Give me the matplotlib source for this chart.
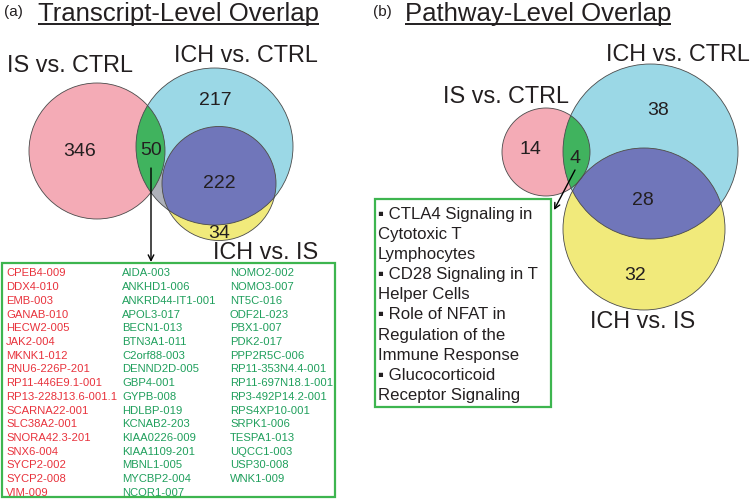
import matplotlib
matplotlib.use("Agg")
import matplotlib.pyplot as plt
from matplotlib.patches import Circle, Polygon, Rectangle

plt.rcParams["font.family"] = ["Liberation Sans", "DejaVu Sans"]

# ---- data ----
set_labels = ["IS vs. CTRL", "ICH vs. CTRL", "ICH vs. IS"]
# region counts: IS only, IS&ICH-CTRL, ICH-CTRL only, ICH-CTRL&ICH-IS, ICH-IS only
transcript_counts = [346, 50, 217, 222, 34]
pathway_counts = [14, 4, 38, 28, 32]

red_genes = ["CPEB4-009", "DDX4-010", "EMB-003", "GANAB-010", "HECW2-005",
             "JAK2-004", "MKNK1-012", "RNU6-226P-201", "RP11-446E9.1-001",
             "RP13-228J13.6-001.1", "SCARNA22-001", "SLC38A2-001",
             "SNORA42.3-201", "SNX6-004", "SYCP2-002", "SYCP2-008", "VIM-009"]
green_genes = ["AIDA-003", "ANKHD1-006", "ANKRD44-IT1-001", "APOL3-017",
               "BECN1-013", "BTN3A1-011", "C2orf88-003", "DENND2D-005",
               "GBP4-001", "GYPB-008", "HDLBP-019", "KCNAB2-203",
               "KIAA0226-009", "KIAA1109-201", "MBNL1-005", "MYCBP2-004",
               "NCOR1-007",
               "NOMO2-002", "NOMO3-007", "NT5C-016", "ODF2L-023", "PBX1-007",
               "PDK2-017", "PPP2R5C-006", "RP11-353N4.4-001",
               "RP11-697N18.1-001", "RP3-492P14.2-001", "RPS4XP10-001",
               "SRPK1-006", "TESPA1-013", "UQCC1-003", "USP30-008", "WNK1-009"]

pathway_lines = ["\u25aa CTLA4 Signaling in", "Cytotoxic T", "Lymphocytes",
                 "\u25aa CD28 Signaling in T", "Helper Cells",
                 "\u25aa Role of NFAT in", "Regulation of the",
                 "Immune Response", "\u25aa Glucocorticoid",
                 "Receptor Signaling"]

PINK = "#f4abb6"
BLUE = "#9bd8e6"
GREEN = "#40b35e"
PURPLE = "#7076ba"
YELLOW = "#f1ea7b"
GREY = "#aeb1ba"
EDGE = "#4a4a4a"
TXT = "#231f20"
BOXG = "#3db54f"
RED_T = "#e8323c"
GREEN_T = "#1f9f5c"

fig = plt.figure(figsize=(7.5, 5), dpi=100)
ax = fig.add_axes([0, 0, 1, 1])
ax.set_xlim(0, 750)
ax.set_ylim(500, 0)
ax.axis("off")


def venn(pink, blue, yellow, grey_poly=None):
    pk = Circle(pink[:2], pink[2], fc=PINK, ec="none", zorder=1)
    bl = Circle(blue[:2], blue[2], fc=BLUE, ec="none", zorder=1.1)
    ax.add_patch(pk)
    ax.add_patch(bl)
    if grey_poly is not None:
        g = Polygon(grey_poly, fc=GREY, ec="none", zorder=1.2)
        ax.add_patch(g)
        g.set_clip_path(bl)
    gr = Circle(blue[:2], blue[2], fc=GREEN, ec="none", zorder=1.3)
    ax.add_patch(gr)
    gr.set_clip_path(pk)
    ye = Circle(yellow[:2], yellow[2], fc=YELLOW, ec="none", zorder=1.4)
    ax.add_patch(ye)
    pu = Circle(yellow[:2], yellow[2], fc=PURPLE, ec="none", zorder=1.5)
    ax.add_patch(pu)
    pu.set_clip_path(bl)
    for c in (pink, blue, yellow):
        ax.add_patch(Circle(c[:2], c[2], fc="none", ec=EDGE, lw=0.6, zorder=2))


# ---- panel (a) ----
venn((97, 151, 68), (214.5, 146.5, 78.5), (219, 183.5, 57),
     grey_poly=[(150, 186), (166, 168), (185, 222), (150, 222)])

num_kw = dict(fontsize=14, color=TXT, ha="center", va="baseline", zorder=3)
for (x, y), n in zip([(80, 156), (151, 155), (215, 105), (219, 188), (219, 238)],
                     transcript_counts):
    ax.text(x, y, str(n), **num_kw)

lab_kw = dict(fontsize=16.8, color=TXT, va="baseline", zorder=3)
ax.text(7, 72, set_labels[0], ha="left", **lab_kw)
ax.text(174, 62, set_labels[1], ha="left", **lab_kw)
ax.text(213, 259, set_labels[2], ha="left", **lab_kw)

ax.annotate("", xy=(151, 262), xytext=(151, 168),
            arrowprops=dict(arrowstyle="->", color="black", lw=1,
                            mutation_scale=10, shrinkA=0, shrinkB=0), zorder=3)

ax.add_patch(Rectangle((2, 263), 333, 234, fc="white", ec=BOXG, lw=1.6, zorder=2))
row0, step = 276.5, 13.7
cols = [(6, red_genes, RED_T), (122, green_genes[:17], GREEN_T),
        (230, green_genes[17:], GREEN_T)]
for x, genes, col in cols:
    for i, g in enumerate(genes):
        ax.text(x, row0 + i * step, g, fontsize=8.1, color=col,
                ha="left", va="baseline", zorder=3)

# ---- panel (b) ----
venn((546, 152, 44), (650.5, 151.5, 87.5), (644, 229, 81))
for (x, y), n in zip([(530, 154), (575, 163), (658, 115), (643, 205), (635, 280)],
                     pathway_counts):
    ax.text(x, y, str(n), **num_kw)

ax.text(443, 103, set_labels[0], ha="left", **lab_kw)
ax.text(606, 61, set_labels[1], ha="left", **lab_kw)
ax.text(590, 328, set_labels[2], ha="left", **lab_kw)

ax.annotate("", xy=(554, 210), xytext=(575, 170),
            arrowprops=dict(arrowstyle="->", color="black", lw=1,
                            mutation_scale=10, shrinkA=0, shrinkB=0), zorder=3)

ax.add_patch(Rectangle((375, 199), 176, 208, fc="white", ec=BOXG, lw=1.6, zorder=2))
for i, line in enumerate(pathway_lines):
    ax.text(378, 218.5 + i * 20.18, line, fontsize=12.1, color=TXT,
            ha="left", va="baseline", zorder=3)

# ---- titles ----
ax.text(4, 16, "(a)", fontsize=11, color=TXT, ha="left", va="baseline")
ax.text(373, 16, "(b)", fontsize=11, color=TXT, ha="left", va="baseline")
titles = [ax.text(38, 21, "Transcript-Level Overlap", fontsize=18.5, color=TXT,
                  ha="left", va="baseline"),
          ax.text(405, 21, "Pathway-Level Overlap", fontsize=18.5, color=TXT,
                  ha="left", va="baseline")]
fig.canvas.draw()
inv = ax.transData.inverted()
for t in titles:
    bb = t.get_window_extent()
    x0 = inv.transform((bb.x0, bb.y0))[0]
    x1 = inv.transform((bb.x1, bb.y0))[0]
    ax.plot([x0, x1], [23.5, 23.5], color=TXT, lw=1.4, solid_capstyle="butt")

fig.savefig("out.png", dpi=100)
